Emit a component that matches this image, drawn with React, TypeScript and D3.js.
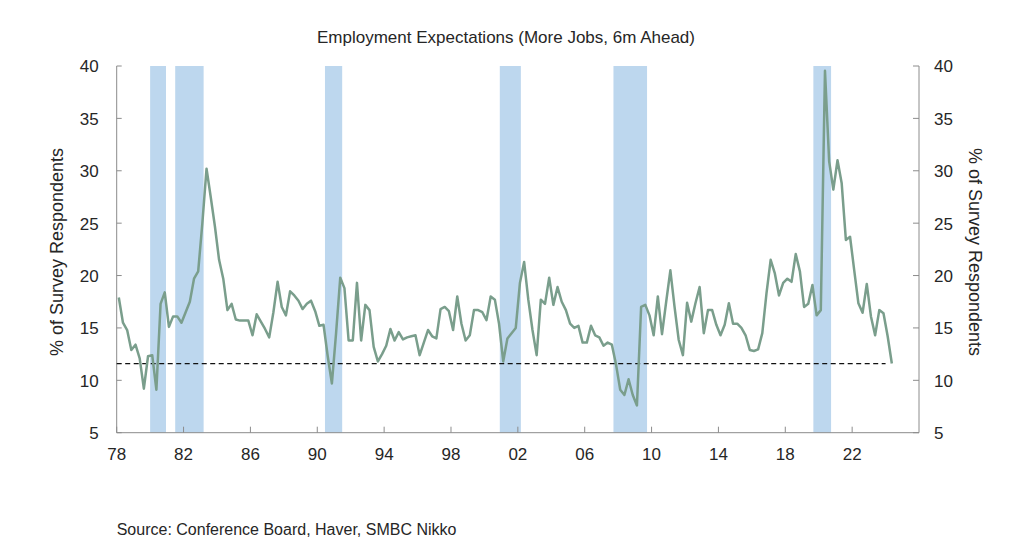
import { useEffect, useRef } from "react"
import * as d3 from "d3"

// quarterly readings, first point is 1978 Q1
const firstYear = 1978
const values78to89 = [
  17.9, 15.5, 14.8, 12.9, 13.4, 12.1, 9.2, 12.3, 12.4, 9.1, 17.3, 18.4,
  15.1, 16.1, 16.1, 15.5, 16.5, 17.5, 19.7, 20.4, 25.0, 30.2, 27.5, 24.7,
  21.5, 19.7, 16.7, 17.3, 15.8, 15.7, 15.7, 15.7, 14.3, 16.3, 15.6, 14.9,
  14.1, 16.5, 19.4, 17.0, 16.2, 18.5, 18.1, 17.6, 16.8, 17.3, 17.6, 16.6,
]
const values90to99 = [
  15.2, 15.3, 12.3, 9.7, 14.5, 19.8, 18.8, 13.8, 13.8, 19.3, 13.8, 17.2,
  16.7, 13.2, 11.8, 12.5, 13.3, 14.9, 13.8, 14.6, 13.9, 14.1, 14.2, 14.3,
  12.4, 13.6, 14.8, 14.2, 14.0, 16.8, 17.0, 16.6, 14.8, 18.0, 15.4, 13.8,
  14.3, 16.7, 16.7, 16.5,
]
const values00to09 = [
  15.75, 18.0, 17.7, 15.4, 11.8, 14.0, 14.5, 15.0, 19.3, 21.3, 17.7, 14.8,
  12.4, 17.7, 17.3, 19.8, 17.2, 18.9, 17.5, 16.7, 15.4, 15.0, 15.2, 13.6,
  13.6, 15.2, 14.3, 14.1, 13.3, 13.6, 13.4, 11.5, 9.1, 8.6, 10.1, 8.6,
  7.6, 17.0, 17.2, 16.2,
]
const values10to24 = [
  14.3, 18.0, 14.4, 17.5, 20.5, 17.0, 13.85, 12.4, 17.4, 15.6, 17.35, 18.9,
  14.5, 16.7, 16.7, 15.3, 14.3, 15.3, 17.35, 15.4, 15.4, 15.0, 14.3, 12.9,
  12.8, 12.95, 14.5, 18.3, 21.5, 20.2, 18.1, 19.3, 19.7, 19.4, 22.05, 20.4,
  17.0, 17.3, 19.1, 16.2, 16.7, 39.55, 30.9, 28.2, 31.0, 28.8, 23.4, 23.7,
  20.5, 17.35, 16.45, 19.2, 16.1, 14.3, 16.7, 16.4, 14.2, 11.6,
]

// shaded recession periods (decimal years)
const recessionStart = [1980.0, 1981.5, 1990.46, 2000.92, 2007.72, 2019.68]
const recessionEnd = [1980.95, 1983.2, 1991.49, 2002.18, 2009.73, 2020.74]

const yearTicks = [1978, 1982, 1986, 1990, 1994, 1998, 2002, 2006, 2010, 2014, 2018, 2022]
const valueTicks = [5, 10, 15, 20, 25, 30, 35, 40]

const title = "Employment Expectations (More Jobs, 6m Ahead)"
const axisTitle = "% of Survey Respondents"
const source = "Source: Conference Board, Haver, SMBC Nikko"

interface Point {
  t: number
  v: number
}

export default function App() {
  const svgRef = useRef<SVGSVGElement>(null)

  useEffect(() => {
    if (!svgRef.current) return
    d3.select(svgRef.current).selectAll("*").remove()

    const width = 1022
    const height = 546
    const font = "'Liberation Sans', Arial, sans-serif"
    const textColor = "#262626"
    const axisColor = "#8c8c8c"

    const allValues = [...values78to89, ...values90to99, ...values00to09, ...values10to24]
    const data: Point[] = allValues.map((v, i) => ({ t: firstYear + 0.125 + i * 0.25, v }))
    const last = data[data.length - 1]

    const left = 116.7
    const right = 919
    const top = 66
    const bottom = 432.7

    const x = d3.scaleLinear().domain([1978, 2026]).range([left, right])
    const y = d3.scaleLinear().domain([5, 40]).range([bottom, top])

    const svg = d3.select(svgRef.current).attr("width", width).attr("height", height)

    svg.append("rect").attr("width", width).attr("height", height).attr("fill", "#fff")

    // recession bars
    svg
      .append("g")
      .selectAll("rect")
      .data(recessionStart.map((s, i) => [s, recessionEnd[i]]))
      .enter()
      .append("rect")
      .attr("x", (d) => x(d[0]))
      .attr("width", (d) => x(d[1]) - x(d[0]))
      .attr("y", top)
      .attr("height", bottom - top)
      .attr("fill", "#bdd7ee")

    // axes frame
    const axes = svg.append("g").attr("stroke", axisColor).attr("stroke-width", 1)
    axes.append("line").attr("x1", left).attr("x2", left).attr("y1", top).attr("y2", bottom)
    axes.append("line").attr("x1", right).attr("x2", right).attr("y1", top).attr("y2", bottom)
    axes.append("line").attr("x1", left).attr("x2", right).attr("y1", bottom).attr("y2", bottom)

    // y ticks, pointing inward on both sides
    valueTicks.forEach((v) => {
      axes.append("line").attr("x1", left).attr("x2", left + 5).attr("y1", y(v)).attr("y2", y(v))
      axes.append("line").attr("x1", right - 6).attr("x2", right).attr("y1", y(v)).attr("y2", y(v))
    })
    yearTicks.forEach((yr) => {
      axes.append("line").attr("x1", x(yr)).attr("x2", x(yr)).attr("y1", bottom).attr("y2", bottom - 6)
    })

    // average / latest reference line
    svg
      .append("line")
      .attr("x1", x(1978))
      .attr("x2", x(2024))
      .attr("y1", y(last.v))
      .attr("y2", y(last.v))
      .attr("stroke", "#111")
      .attr("stroke-width", 1.2)
      .attr("stroke-dasharray", "5,3.5")

    const line = d3
      .line<Point>()
      .x((d) => x(d.t))
      .y((d) => y(d.v))

    svg
      .append("path")
      .datum(data)
      .attr("fill", "none")
      .attr("stroke", "#7a9e8c")
      .attr("stroke-width", 2.5)
      .attr("stroke-linejoin", "round")
      .attr("d", line)

    const labels = svg.append("g").attr("font-family", font).attr("fill", textColor)

    labels
      .selectAll(".yl")
      .data(valueTicks)
      .enter()
      .append("text")
      .attr("x", left - 18)
      .attr("y", (d) => y(d))
      .attr("dy", "0.38em")
      .attr("text-anchor", "end")
      .style("font-size", "17px")
      .text((d) => d)

    labels
      .selectAll(".yr")
      .data(valueTicks)
      .enter()
      .append("text")
      .attr("x", right + 15)
      .attr("y", (d) => y(d))
      .attr("dy", "0.38em")
      .style("font-size", "17px")
      .text((d) => d)

    labels
      .selectAll(".xl")
      .data(yearTicks)
      .enter()
      .append("text")
      .attr("x", (d) => x(d))
      .attr("y", bottom + 27)
      .attr("text-anchor", "middle")
      .style("font-size", "17px")
      .text((d) => String(d % 100).padStart(2, "0"))

    labels
      .append("text")
      .attr("x", 506)
      .attr("y", 43)
      .attr("text-anchor", "middle")
      .style("font-size", "17px")
      .text(title)

    labels
      .append("text")
      .attr("transform", "translate(63,252) rotate(-90)")
      .attr("text-anchor", "middle")
      .style("font-size", "18px")
      .text(axisTitle)

    labels
      .append("text")
      .attr("transform", "translate(969,252) rotate(90)")
      .attr("text-anchor", "middle")
      .style("font-size", "18px")
      .text(axisTitle)

    labels
      .append("text")
      .attr("x", left)
      .attr("y", 535)
      .style("font-size", "16px")
      .text(source)
  }, [])

  return (
    <div style={{ position: "absolute", left: 0, top: 0 }}>
      <svg ref={svgRef} style={{ display: "block" }}></svg>
    </div>
  )
}
